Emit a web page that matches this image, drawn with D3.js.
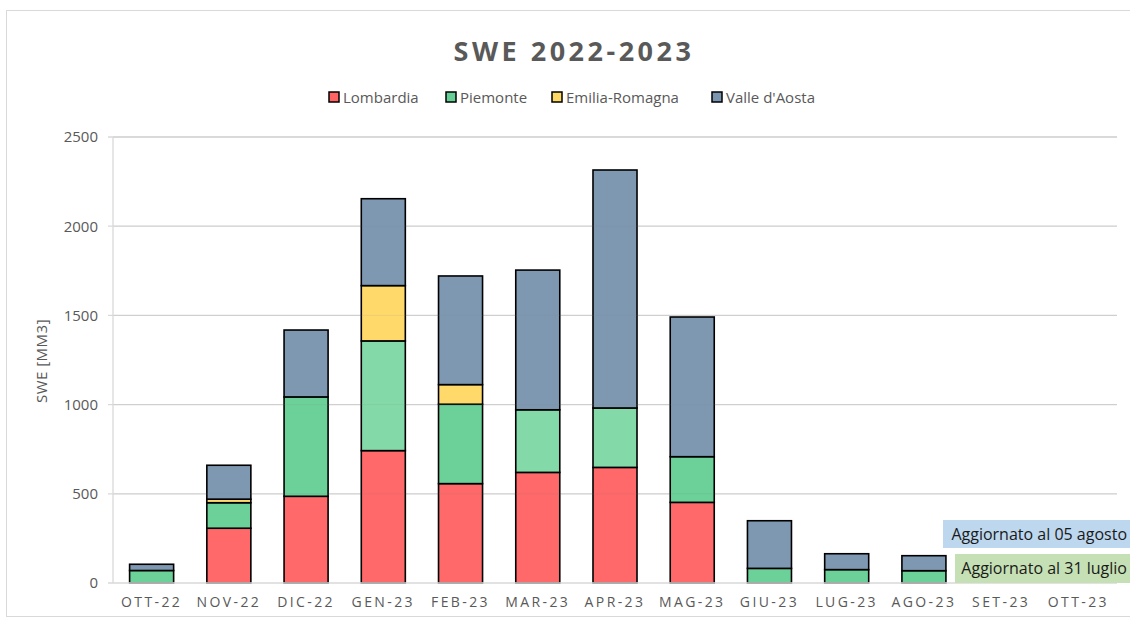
<!DOCTYPE html>
<html><head><meta charset="utf-8">
<script src="https://cdn.jsdelivr.net/npm/d3@7"></script>
<style>body{margin:0;background:#fff}svg{display:block}</style>
</head><body>
<svg id="c" width="1130" height="621"></svg>
<script>
const months = ["OTT-22","NOV-22","DIC-22","GEN-23","FEB-23","MAR-23","APR-23","MAG-23","GIU-23","LUG-23","AGO-23","SET-23","OTT-23"];
const lombardia = [0,307,486,742,557,620,648,452,0,0,0,0,0];
const piemonte  = [70,143,557,615,445,351,333,256,82,75,69,0,0];
const emilia    = [0,20,0,310,110,0,0,0,0,0,0,0,0];
const valle     = [35,190,375,487,609,783,1334,783,267,89,84,0,0];
const seriesNames = ["Lombardia","Piemonte","Emilia-Romagna","Valle d'Aosta"];
const yTicks = [0,500,1000,1500,2000,2500];

const colors = ["#FF6464","#66CF95","#FFD966","#7A95B0"];
const lightPiemonte = new Set(["GEN-23","MAR-23","APR-23"]);
const font = "'Open Sans', 'Noto Sans', sans-serif";

const svg = d3.select("#c");
svg.append("rect").attr("x",6.5).attr("y",10.5).attr("width",1130).attr("height",606)
  .attr("fill","#fff").attr("stroke","#d9d9d9");

const m = {l:113, r:1117, t:137, b:583};
const x = d3.scaleBand().domain(months).range([m.l,m.r]).paddingInner(0.43).paddingOuter(0.215);
const y = d3.scaleLinear().domain([0,2500]).range([m.b,m.t]);

// gridlines
svg.append("g").selectAll("line").data(yTicks.slice(1)).join("line")
  .attr("x1",m.l-5).attr("x2",m.r).attr("y1",d=>y(d)).attr("y2",d=>y(d))
  .attr("stroke","#d9d9d9").attr("stroke-width",1.3);

// data table
const table = months.map((mo,i)=>({month:mo,"Lombardia":lombardia[i],"Piemonte":piemonte[i],"Emilia-Romagna":emilia[i],"Valle d'Aosta":valle[i]}));
const stack = d3.stack().keys(seriesNames)(table);

const g = svg.append("g");
stack.forEach((s,si)=>{
  g.selectAll(null).data(s.filter(d=>d[1]-d[0]>0)).join("rect")
    .attr("x",d=>x(d.data.month)).attr("width",x.bandwidth())
    .attr("y",d=>y(d[1])).attr("height",d=>y(d[0])-y(d[1]))
    .attr("fill",d=> (si===1 && lightPiemonte.has(d.data.month)) ? "#80D8A6" : colors[si])
    .attr("fill-opacity",0.97)
    .attr("stroke","#000").attr("stroke-width",1.6);
});

// gridlines faintly over bars
svg.append("g").selectAll("line").data(yTicks.slice(1)).join("line")
  .attr("x1",m.l).attr("x2",m.r).attr("y1",d=>y(d)).attr("y2",d=>y(d))
  .attr("stroke","#888").attr("stroke-opacity",0.12).attr("stroke-width",1.3);

// axis lines
svg.append("line").attr("x1",m.l).attr("x2",m.l).attr("y1",m.t).attr("y2",m.b).attr("stroke","#d9d9d9").attr("stroke-width",1.3);
svg.append("line").attr("x1",m.l-5).attr("x2",m.r).attr("y1",m.b).attr("y2",m.b).attr("stroke","#d9d9d9").attr("stroke-width",1.3);

// y axis
const ya = svg.append("g").attr("transform",`translate(${m.l-5},0)`)
  .call(d3.axisLeft(y).tickValues(yTicks).tickSize(0).tickPadding(10).tickFormat(d3.format("d")));
ya.select(".domain").remove();
ya.selectAll("text").attr("font-family",font).attr("font-size",15).attr("fill","#595959");

// x axis
const xa = svg.append("g").attr("transform",`translate(0,${m.b})`)
  .call(d3.axisBottom(x).tickSize(0).tickPadding(14));
xa.select(".domain").remove();
xa.selectAll("text").attr("font-family",font).attr("font-size",14).attr("fill","#595959")
  .attr("letter-spacing","2.4px");

// y label
svg.append("text").attr("transform","translate(47,361) rotate(-90)").attr("text-anchor","middle")
  .attr("font-family",font).attr("font-size",15).attr("letter-spacing","0.5px").attr("fill","#595959").text("SWE [MM3]");

// title
svg.append("text").attr("x",574).attr("y",61).attr("text-anchor","middle")
  .attr("font-family",font).attr("font-weight","bold").attr("font-size",27).attr("letter-spacing","3.5px")
  .attr("fill","#595959").text("SWE 2022-2023");

// legend
const legX = [329,446,552,712];
const lg = svg.append("g");
seriesNames.forEach((n,i)=>{
  lg.append("rect").attr("x",legX[i]).attr("y",92).attr("width",10).attr("height",10)
    .attr("fill",colors[i]).attr("stroke","#000").attr("stroke-width",1.5);
  lg.append("text").attr("x",legX[i]+14).attr("y",103).attr("font-family",font).attr("font-size",15)
    .attr("fill","#595959").text(n);
});

// notes
const notes = [{t:"Aggiornato al 05 agosto",x:943,y:520,h:28,c:"#BDD7EE"},{t:"Aggiornato al 31 luglio",x:955,y:554,h:29,c:"#C5E0B4"}];
notes.forEach(n=>{
  svg.append("rect").attr("x",n.x).attr("y",n.y).attr("width",1130-n.x).attr("height",n.h).attr("fill",n.c);
  svg.append("text").attr("x",1127).attr("y",n.y+n.h/2+5.5).attr("text-anchor","end")
    .attr("font-family",font).attr("font-size",16).attr("fill","#1a1a1a").text(n.t);
});
</script>
</body></html>
